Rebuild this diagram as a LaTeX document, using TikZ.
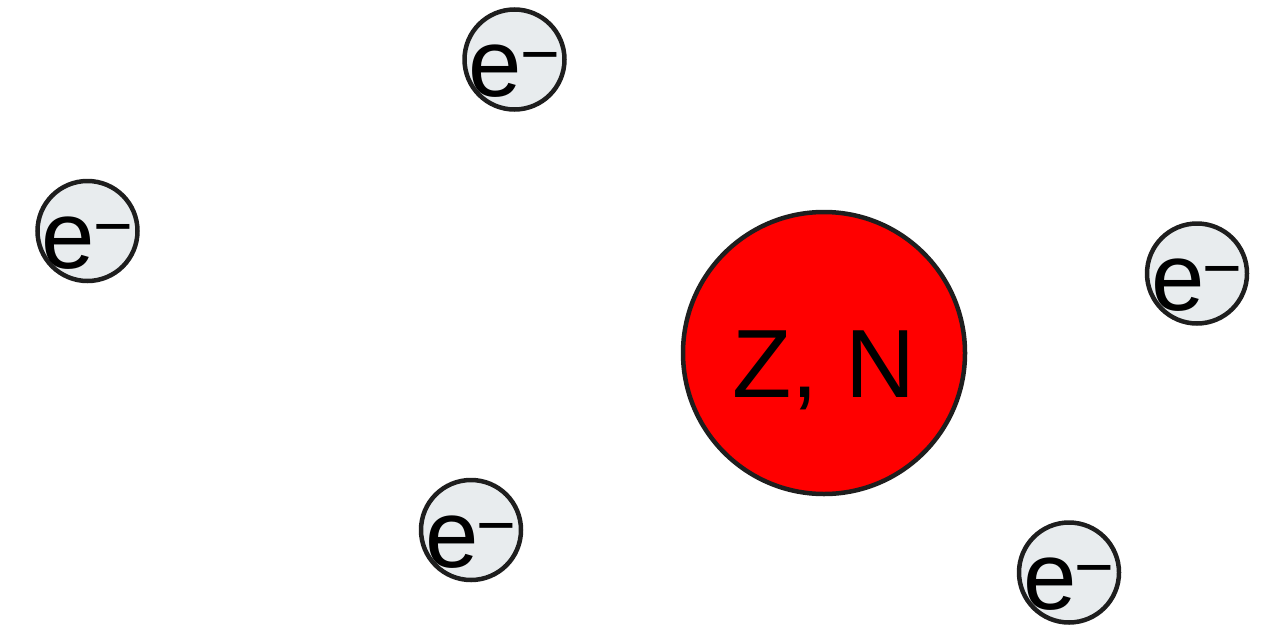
\documentclass[tikz,border=0pt]{standalone}
\usepackage{fontspec}
\setmainfont{Liberation Sans}
\usepackage{tikz}
\definecolor{NucleusRed}{HTML}{FF0000}
\definecolor{ElectronGray}{HTML}{E8ECEE}
\definecolor{RimDark}{HTML}{1E1E1E}

\begin{document}
\begin{tikzpicture}[
  x=1pt, y=-1pt,
  nucleus/.style={circle,draw=RimDark,line width=4.5pt,fill=NucleusRed,minimum size=282pt,inner sep=0pt,
    font=\fontsize{97}{97}\selectfont,text height=88pt,text depth=0pt},
  electron/.style={circle,draw=RimDark,line width=4.5pt,fill=ElectronGray,minimum size=100pt,inner sep=0pt},
  etext/.style={inner sep=0pt,font=\fontsize{96}{96}\selectfont,text height=74pt,text depth=0pt}
]
  \useasboundingbox (0,0) rectangle (1281,629);

  \node[nucleus] (zn) at (824,353) {Z, N};

  \node[electron] (e1) at (514.5,59.5) {};
  \node[electron] (e2) at (87.5,231) {};
  \node[electron] (e3) at (1197,273.5) {};
  \node[electron] (e4) at (471,530) {};
  \node[electron] (e5) at (1069,572.5) {};

  \node[etext] (t1) at (e1) {e\kern-2pt\raisebox{19pt}{\fontsize{68}{68}\selectfont −}};
  \node[etext] (t2) at (e2) {e\kern-2pt\raisebox{19pt}{\fontsize{68}{68}\selectfont −}};
  \node[etext] (t3) at (e3) {e\kern-2pt\raisebox{19pt}{\fontsize{68}{68}\selectfont −}};
  \node[etext] (t4) at (e4) {e\kern-2pt\raisebox{19pt}{\fontsize{68}{68}\selectfont −}};
  \node[etext] (t5) at (e5) {e\kern-2pt\raisebox{19pt}{\fontsize{68}{68}\selectfont −}};
\end{tikzpicture}
\end{document}
